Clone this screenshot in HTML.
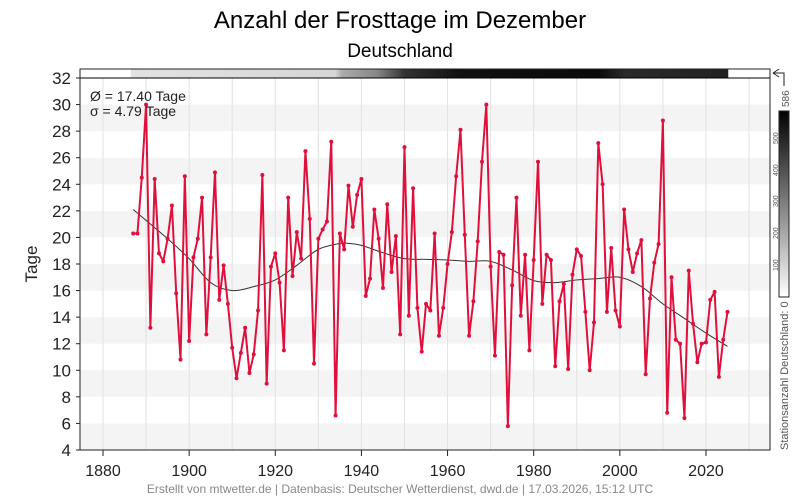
<!DOCTYPE html>
<html><head><meta charset="utf-8"><style>
html,body{margin:0;padding:0;background:#fff;}
svg{display:block;font-family:"Liberation Sans",sans-serif;}
</style></head><body>
<svg id="chart" width="800" height="500" viewBox="0 0 800 500">
<defs>
<linearGradient id="stgrad" x1="0" x2="1" y1="0" y2="0">
<stop offset="0" stop-color="#fff"/><stop offset="0.073" stop-color="#fff"/>
<stop offset="0.074" stop-color="#e2e2e2"/><stop offset="0.37" stop-color="#d6d6d6"/>
<stop offset="0.38" stop-color="#aaa"/><stop offset="0.43" stop-color="#888"/>
<stop offset="0.47" stop-color="#333"/><stop offset="0.55" stop-color="#111"/>
<stop offset="0.75" stop-color="#0a0a0a"/><stop offset="0.79" stop-color="#2a2a2a"/>
<stop offset="0.939" stop-color="#222"/><stop offset="0.94" stop-color="#fff"/><stop offset="1" stop-color="#fff"/>
</linearGradient>
<linearGradient id="cbgrad" x1="0" x2="0" y1="0" y2="1">
<stop offset="0" stop-color="#000"/><stop offset="1" stop-color="#fff"/>
</linearGradient>
</defs>
<text x="400" y="28" text-anchor="middle" font-size="24" fill="#000">Anzahl der Frosttage im Dezember</text>
<text x="400" y="57" text-anchor="middle" font-size="19" fill="#000">Deutschland</text>
<g id="bands"></g>
<g id="grid"></g>
<rect x="80" y="69" width="690" height="9" fill="url(#stgrad)" stroke="#000" stroke-width="1"/>
<g id="trend"></g>
<g id="series"></g>
<rect x="80" y="69" width="690" height="381" fill="none" stroke="#222" stroke-width="1"/>
<g id="axes"></g>
<text x="90" y="101" font-size="14" fill="#222">Ø = 17.40 Tage</text>
<text x="90" y="116" font-size="14" fill="#222">σ = 4.79 Tage</text>
<text transform="translate(37,264) rotate(-90)" text-anchor="middle" font-size="17" fill="#222">Tage</text>
<g>
<rect x="779" y="111" width="10" height="186" fill="url(#cbgrad)" stroke="#222" stroke-width="1"/>
<path d="M773 73 L779 69 M773 73 L779 77 M773 73 L784 73 L784 86" fill="none" stroke="#222" stroke-width="1"/>
<text transform="translate(789,107) rotate(-90)" font-size="10" fill="#555">586</text>
<text transform="translate(778,271) rotate(-90)" font-size="7" fill="#555">100</text>
<text transform="translate(778,239) rotate(-90)" font-size="7" fill="#555">200</text>
<text transform="translate(778,207) rotate(-90)" font-size="7" fill="#555">300</text>
<text transform="translate(778,176) rotate(-90)" font-size="7" fill="#555">400</text>
<text transform="translate(778,144) rotate(-90)" font-size="7" fill="#555">500</text>
<text transform="translate(788,450) rotate(-90)" font-size="11" fill="#555">Stationsanzahl Deutschland: 0</text>
</g>
<text x="400" y="493" text-anchor="middle" font-size="12" fill="#888">Erstellt von mtwetter.de | Datenbasis: Deutscher Wetterdienst, dwd.de | 17.03.2026, 15:12 UTC</text>
</svg>
<script>
const startYear = 1887;
const frostDays = [20.3,20.3,24.5,30.0,13.2,24.4,18.8,18.2,19.9,22.4,15.8,10.8,24.6,12.2,18.5,19.9,23.0,12.7,18.5,24.9,15.3,17.9,15.0,11.7,9.4,11.3,13.2,9.8,11.2,14.5,24.7,9.0,17.8,18.8,16.6,11.5,23.0,17.1,20.4,18.4,26.5,21.4,10.5,19.9,20.6,21.2,27.2,6.6,20.3,19.1,23.9,20.8,23.2,24.4,15.6,16.9,22.1,19.9,16.2,22.5,17.4,20.1,12.7,26.8,14.1,23.7,14.7,11.4,15.0,14.5,20.3,12.6,14.7,18.0,20.4,24.6,28.1,20.2,12.6,15.2,19.7,25.7,30.0,17.8,11.1,18.9,18.7,5.8,16.4,23.0,14.1,18.7,11.5,18.3,25.7,15.0,18.7,18.3,10.3,15.2,16.5,10.1,17.2,19.1,18.6,14.4,10.0,13.6,27.1,24.0,14.4,19.2,14.5,13.3,22.1,19.1,17.4,18.8,19.8,9.7,15.4,18.1,19.5,28.8,6.8,17.0,12.3,12.0,6.4,17.5,13.5,10.6,12.0,12.1,15.3,15.9,9.5,12.3,14.4];
const trendYears = [1887,1895,1900,1905,1910,1915,1920,1925,1930,1935,1937,1940,1945,1950,1955,1960,1965,1970,1975,1980,1985,1990,1995,2000,2005,2010,2015,2020,2025];
const trendValues = [22.1,19.9,18.4,16.6,16.0,16.3,16.8,17.9,19.1,19.55,19.55,19.4,18.85,18.4,18.35,18.3,18.2,18.2,17.55,16.75,16.6,16.8,16.9,17.0,16.3,15.0,13.9,12.8,11.8];
const yTicks = [4,6,8,10,12,14,16,18,20,22,24,26,28,30,32];
const xTicks = [1880,1900,1920,1940,1960,1980,2000,2020];

const NS='http://www.w3.org/2000/svg';
const xs = yr => 103 + (yr-1880)*4.307;
const ys = v => 450 - (v-4)*13.286;
function mk(tag, attrs, parent){const e=document.createElementNS(NS,tag);for(const k in attrs)e.setAttribute(k,attrs[k]);parent.appendChild(e);return e;}

const bands=document.getElementById('bands');
for(let v=4; v<32; v+=4){
  const r=mk('rect',{x:80,y:ys(v+2),width:690,height:ys(v)-ys(v+2),fill:'#f4f4f4'},bands);
  
  
}
const grid=document.getElementById('grid');
for(let yr=1880; yr<=2030; yr+=10){
  const l=mk('line',{x1:xs(yr),x2:xs(yr),y1:78,y2:450,stroke:'#e2e2e2','stroke-width':1},grid);
  
  
}
const axes=document.getElementById('axes');
yTicks.forEach(v=>{
  mk('line',{x1:76,x2:80,y1:ys(v),y2:ys(v),stroke:'#222'},axes);
  const t=mk('text',{x:71,y:ys(v)+6,'text-anchor':'end','font-size':17,fill:'#222'},axes);
  t.textContent=v;
  
  
});
xTicks.forEach(yr=>{
  mk('line',{x1:xs(yr),x2:xs(yr),y1:450,y2:456,stroke:'#222'},axes);
  const t=mk('text',{x:xs(yr),y:476,'text-anchor':'middle','font-size':16,fill:'#222'},axes);
  t.textContent=yr;
  
  
});
const tp=trendYears.map((y,i)=>[xs(y),ys(trendValues[i])]);
let d='M'+tp[0][0]+' '+tp[0][1];
for(let i=0;i<tp.length-1;i++){
  const p0=tp[Math.max(0,i-1)],p1=tp[i],p2=tp[i+1],p3=tp[Math.min(tp.length-1,i+2)];
  const c1=[p1[0]+(p2[0]-p0[0])/6,p1[1]+(p2[1]-p0[1])/6];
  const c2=[p2[0]-(p3[0]-p1[0])/6,p2[1]-(p3[1]-p1[1])/6];
  d+=` C${c1[0]} ${c1[1]} ${c2[0]} ${c2[1]} ${p2[0]} ${p2[1]}`;
}
const tr=mk('path',{d:d,fill:'none',stroke:'#333','stroke-width':1},document.getElementById('trend'));


const series=document.getElementById('series');
const pts=frostDays.map((v,i)=>xs(startYear+i).toFixed(2)+','+ys(v).toFixed(2)).join(' ');
const pl=mk('polyline',{points:pts,fill:'none',stroke:'#e0103c','stroke-width':2,'stroke-linejoin':'round'},series);


frostDays.forEach((v,i)=>{
  const c=mk('circle',{cx:xs(startYear+i),cy:ys(v),r:2,fill:'#e0103c'},series);
  
  
});
</script>
</body></html>
